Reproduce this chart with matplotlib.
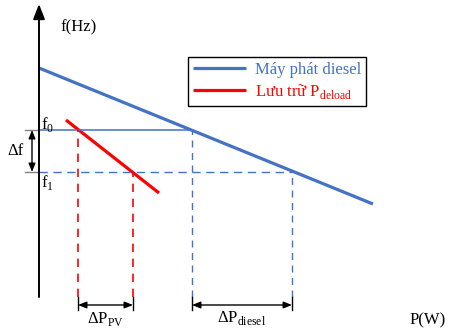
import matplotlib
matplotlib.use("Agg")
import matplotlib.pyplot as plt

plt.rcParams["font.family"] = ["Liberation Serif", "DejaVu Serif"]
plt.rcParams["mathtext.fontset"] = "custom"
plt.rcParams["mathtext.rm"] = "Liberation Serif"

# droop characteristics (P in arbitrary units, f in arbitrary units)
diesel_P = [0, 334]
diesel_f = [229, 93]
pv_P = [27, 120]
pv_f = [177, 104]

f0 = 167
f1 = 125
P_pv0, P_pv1 = 39, 94          # PV operating points at f0, f1
P_ds0, P_ds1 = 153, 253        # diesel operating points at f0, f1

blue = "#4472C4"
red = "#FF0000"

fig = plt.figure(figsize=(4.49, 3.29), dpi=100)
ax = fig.add_axes([0, 0, 1, 1])
ax.set_xlim(-39, 410)
ax.set_ylim(-32, 297)
ax.axis("off")

# axes with arrows
arrow = dict(arrowstyle="-|>,head_length=0.9,head_width=0.35", color="black", lw=1.4, shrinkA=0, shrinkB=0)
ax.annotate("", xy=(412, 0), xytext=(0, 0), arrowprops=arrow)
ax.annotate("", xy=(0, 293), xytext=(0, 0), arrowprops=arrow)

# main droop lines
ax.plot(diesel_P, diesel_f, color=blue, lw=2.3, label="Máy phát diesel", solid_capstyle="butt")
ax.plot(pv_P, pv_f, color=red, lw=2.3, label="Lưu trữ P$_{\\mathregular{deload}}$", solid_capstyle="butt")

# f0 / f1 levels
ax.plot([0, P_ds0], [f0, f0], color=blue, lw=1.1)
ax.plot([0, P_ds1], [f1, f1], color=blue, lw=1.0, dashes=(6, 4))

# vertical projections
ax.plot([P_pv0, P_pv0], [0, f0], color=red, lw=1.2, dashes=(5, 4))
ax.plot([P_pv1, P_pv1], [0, f1], color=red, lw=1.2, dashes=(5, 4))
ax.plot([P_ds0, P_ds0], [0, f0], color=blue, lw=1.0, dashes=(5, 4))
ax.plot([P_ds1, P_ds1], [0, f1], color=blue, lw=1.0, dashes=(5, 4))

# delta f marker
ax.plot([-14, 0], [f0, f0], color="gray", lw=1.0)
ax.plot([-14, 0], [f1, f1], color="gray", lw=1.0)
dbl = dict(arrowstyle="<|-|>,head_length=0.5,head_width=0.2", color="black", lw=1.0, shrinkA=0, shrinkB=0)
ax.annotate("", xy=(-7, f0), xytext=(-7, f1), arrowprops=dbl)
ax.text(-24, (f0 + f1) / 2, "Δf", fontsize=12, ha="center", va="center")

# delta P markers
for pa, pb in [(P_pv0, P_pv1), (P_ds0, P_ds1)]:
    ax.plot([pa, pa], [0, -13], color="black", lw=1.0)
    ax.plot([pb, pb], [0, -13], color="black", lw=1.0)
    ax.annotate("", xy=(pa, -8), xytext=(pb, -8), arrowprops=dbl)
ax.text((P_pv0 + P_pv1) / 2, -22, "ΔP$_{\\mathregular{PV}}$", fontsize=12, ha="center", va="center")
ax.text((P_ds0 + P_ds1) / 2, -21, "ΔP$_{\\mathregular{diesel}}$", fontsize=12, ha="center", va="center")

# labels
ax.text(21, 270, "f(Hz)", fontsize=12, ha="left", va="center")
ax.text(371, -23, "P(W)", fontsize=12, ha="left", va="center")
ax.text(2, f0 + 5, "f$_{\\mathregular{0}}$", fontsize=12, ha="left", va="center")
ax.text(2, f1 - 10, "f$_{\\mathregular{1}}$", fontsize=12, ha="left", va="center")

leg = ax.legend(loc="upper left", bbox_to_anchor=(188 / 449, 1 - 57 / 329), borderaxespad=0,
                fancybox=False, edgecolor="black", framealpha=1, fontsize=12,
                labelcolor="linecolor", handlelength=3.2, handletextpad=0.5,
                borderpad=0.3, labelspacing=0.25)
leg.get_frame().set_linewidth(1.0)

fig.savefig("out.png", dpi=100)
